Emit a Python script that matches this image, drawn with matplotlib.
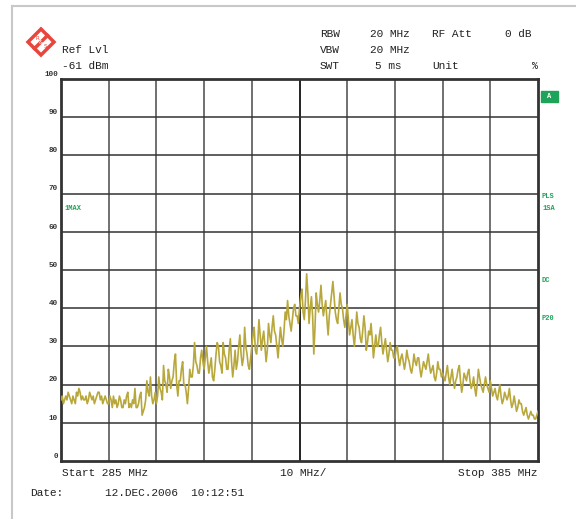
import numpy as np
import matplotlib.pyplot as plt
from matplotlib.patches import Rectangle, Polygon

W, H = 576, 519

# analyzer trace, 0.25 MHz steps from start to stop (percent)
f_start, f_stop = 285, 385
level = [
    16, 17, 15, 16, 17, 16, 18, 17, 16, 15, 17, 16, 15, 18, 17, 19, 18, 16, 17, 16,
    16, 17, 15, 16, 18, 17, 16, 17, 15, 16, 17, 18, 18, 16, 17, 15, 16, 17, 16, 15,
    15, 17, 16, 14, 17, 15, 16, 14, 15, 17, 16, 14, 14, 16, 15, 17, 18, 14, 15, 14,
    16, 15, 19, 14, 14, 15, 17, 18, 12, 13, 14, 16, 21, 18, 17, 22, 17, 15, 16, 18,
    15, 17, 22, 19, 18, 16, 25, 21, 20, 18, 24, 22, 19, 21, 22, 26, 28, 20, 17, 21,
    21, 24, 26, 20, 20, 18, 15, 19, 24, 22, 22, 25, 31, 26, 25, 23, 23, 27, 29, 26,
    24, 27, 30, 26, 23, 25, 27, 22, 21, 24, 28, 31, 30, 26, 25, 23, 31, 28, 27, 24,
    24, 29, 32, 26, 22, 25, 29, 24, 26, 30, 33, 28, 25, 27, 35, 30, 28, 25, 24, 27,
    30, 33, 35, 29, 28, 31, 37, 33, 29, 32, 34, 30, 26, 29, 36, 33, 31, 35, 38, 34,
    33, 30, 27, 31, 35, 32, 30, 34, 39, 37, 42, 38, 36, 34, 37, 40, 41, 38, 38, 36,
    40, 43, 45, 39, 37, 42, 49, 44, 36, 40, 43, 38, 28, 35, 44, 41, 39, 42, 46, 41,
    38, 40, 42, 37, 33, 38, 41, 44, 47, 43, 39, 37, 36, 40, 44, 41, 40, 37, 35, 38,
    41, 37, 33, 35, 37, 33, 30, 34, 39, 36, 35, 32, 31, 34, 38, 35, 29, 31, 34, 33,
    36, 32, 27, 30, 33, 30, 30, 33, 35, 31, 28, 30, 32, 29, 26, 28, 31, 29, 29, 27,
    27, 29, 30, 27, 25, 27, 28, 26, 24, 26, 29, 27, 26, 24, 23, 25, 28, 26, 25, 27,
    27, 24, 22, 24, 26, 25, 24, 26, 28, 25, 23, 24, 25, 22, 21, 23, 26, 24, 24, 22,
    23, 22, 21, 23, 25, 22, 20, 22, 24, 21, 19, 21, 22, 24, 25, 21, 18, 20, 23, 22,
    21, 23, 24, 21, 19, 20, 22, 19, 17, 20, 24, 22, 20, 19, 18, 20, 22, 20, 19, 18,
    21, 19, 17, 18, 19, 17, 16, 18, 20, 17, 15, 16, 18, 17, 16, 17, 19, 16, 14, 15,
    17, 15, 13, 14, 16, 15, 15, 13, 12, 13, 14, 12, 11, 12, 13, 12, 12, 11, 11, 12, 13,
]
freq = np.linspace(f_start, f_stop, len(level))

y_ticks = [0, 10, 20, 30, 40, 50, 60, 70, 80, 90, 100]

header_left = [("Ref Lvl", 62, 50), ("-61 dBm", 62, 66)]
header_right = [
    ("RBW", 320, 34), ("20 MHz", 370, 34), ("RF Att", 432, 34), ("0 dB", 505, 34),
    ("VBW", 320, 50), ("20 MHz", 370, 50),
    ("SWT", 320, 66), ("5 ms", 375, 66), ("Unit", 432, 66),
]
side_marks = [("PLS", 542, 196), ("1SA", 542, 208), ("DC", 542, 281), ("P20", 542, 318)]

mono = "Liberation Mono"
green = "#1fa35a"
trace_col = "#b8a83c"
ink = "#222222"


def fx(x):
    return x / W


def fy(y):
    return 1 - y / H


fig = plt.figure(figsize=(W / 100, H / 100), dpi=100)
fig.patch.set_facecolor("white")

# page frame
fig.add_artist(plt.Line2D([fx(12), fx(12)], [fy(6), 0], color="#c8c8c8", lw=1.5))
fig.add_artist(plt.Line2D([fx(12), 1], [fy(6), fy(6)], color="#c8c8c8", lw=1.5))

ax = fig.add_axes([fx(61), fy(461), fx(538) - fx(61), fy(79) - fy(461)])
ax.plot(freq, level, color=trace_col, lw=1.2, zorder=3)
ax.set_xlim(f_start, f_stop)
ax.set_ylim(0, 100)

for f in range(f_start + 10, f_stop, 10):
    shade = "#222222" if f == 335 else "#4a4a4a"
    ax.axvline(f, color=shade, lw=1.4 if f == 335 else 1.1, zorder=1)
for v in y_ticks[1:-1]:
    ax.axhline(v, color="#333333", lw=1.1, zorder=1)

ax.set_xticks([])
ax.set_yticks([])
for s in ax.spines.values():
    s.set_color("#333333")
    s.set_linewidth(2)

for v in y_ticks:
    ax.text(f_start - 0.6, v + 0.3, str(v), ha="right", va="bottom", fontsize=5.5,
            family=mono, weight="bold", color="#333333")

ax.text(0.007, 0.66, "1MAX", transform=ax.transAxes, fontsize=5, family=mono,
        weight="bold", color=green, va="center")

for txt, x, y in header_left + header_right:
    fig.text(fx(x), fy(y), txt, fontsize=8, family=mono, color=ink, va="center")
fig.text(fx(538), fy(66), "%", fontsize=7, family=mono, color=ink, va="center", ha="right")

fig.text(fx(62), fy(473), "Start 285 MHz", fontsize=8, family=mono, color=ink, va="center")
fig.text(fx(280), fy(473), "10 MHz/", fontsize=8, family=mono, color=ink, va="center")
fig.text(fx(537), fy(473), "Stop 385 MHz", fontsize=8, family=mono, color=ink,
         va="center", ha="right")
fig.text(fx(30), fy(493), "Date:", fontsize=8, family=mono, color=ink, va="center")
fig.text(fx(105), fy(493), "12.DEC.2006  10:12:51", fontsize=8, family=mono,
         color=ink, va="center")

# green status marks right of the grid
fig.add_artist(Rectangle((fx(541), fy(102)), fx(558) - fx(541), fy(91) - fy(102),
                         color=green, transform=fig.transFigure))
fig.text(fx(549.5), fy(96.5), "A", fontsize=5, family=mono, weight="bold",
         color="white", ha="center", va="center")
for txt, x, y in side_marks:
    fig.text(fx(x), fy(y), txt, fontsize=5, family=mono, weight="bold", color=green, va="center")

# R&S logo diamond
cx, cy, r = 41, 42, 13
diamond = [(fx(cx), fy(cy - r)), (fx(cx + r), fy(cy)), (fx(cx), fy(cy + r)), (fx(cx - r), fy(cy))]
fig.add_artist(Polygon(diamond, closed=True, fill=False, edgecolor="#e8453c", lw=2.5,
                       transform=fig.transFigure))
fig.add_artist(plt.Line2D([fx(cx - r / 2), fx(cx + r / 2)], [fy(cy + r / 2), fy(cy - r / 2)],
                          color="#e8453c", lw=2.5))
fig.text(fx(cx - 4), fy(cy - 4), "R", fontsize=4, color="#e8453c", ha="center", va="center")
fig.text(fx(cx), fy(cy), "&", fontsize=4, color="white", ha="center", va="center")
fig.text(fx(cx + 4), fy(cy + 4), "S", fontsize=4, color="#e8453c", ha="center", va="center")

fig.savefig("out.png", dpi=100)
